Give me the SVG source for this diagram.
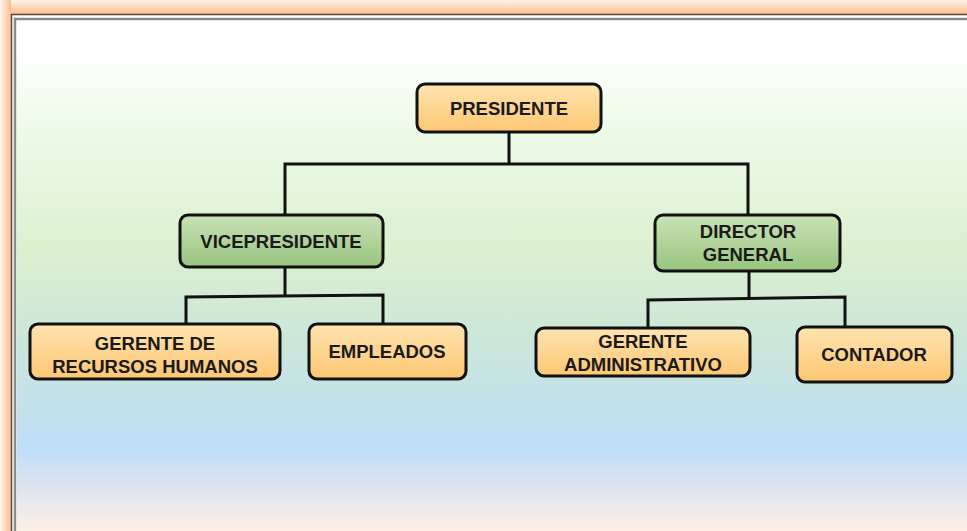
<svg xmlns="http://www.w3.org/2000/svg" width="967" height="531" viewBox="0 0 967 531">
<defs>
<linearGradient id="bg" x1="0" y1="0" x2="0" y2="1">
<stop offset="0" stop-color="#ffffff"/>
<stop offset="0.06" stop-color="#ffffff"/>
<stop offset="0.2" stop-color="#eefbe9"/>
<stop offset="0.45" stop-color="#dcf0cf"/>
<stop offset="0.62" stop-color="#cbe7d8"/>
<stop offset="0.75" stop-color="#c3e1ea"/>
<stop offset="0.84" stop-color="#bfdef8"/>
<stop offset="0.93" stop-color="#e4e6ee"/>
<stop offset="1" stop-color="#fcefe3"/>
</linearGradient>
<linearGradient id="glowT" x1="0" y1="0" x2="0" y2="1">
<stop offset="0" stop-color="#fff3ea"/>
<stop offset="1" stop-color="#ffbe90"/>
</linearGradient>
<linearGradient id="glowL" x1="0" y1="0" x2="1" y2="0">
<stop offset="0" stop-color="#fff3ea"/>
<stop offset="1" stop-color="#ffbe90"/>
</linearGradient>
<linearGradient id="orange" x1="0" y1="0" x2="0" y2="1">
<stop offset="0" stop-color="#ffe3b0"/>
<stop offset="1" stop-color="#fcc772"/>
</linearGradient>
<linearGradient id="green" x1="0" y1="0" x2="0" y2="1">
<stop offset="0" stop-color="#c8e2b6"/>
<stop offset="1" stop-color="#98c57f"/>
</linearGradient>
<style>
.box{stroke:#111;stroke-width:3;}
.o{fill:url(#orange);}
.g{fill:url(#green);}
.t{font-family:"Liberation Sans",Arial,sans-serif;font-weight:bold;font-size:18.5px;fill:#1a1a1a;text-anchor:middle;}
.c{fill:none;stroke:#111;stroke-width:3;}
</style>
</defs>
<rect x="0" y="0" width="967" height="531" fill="#fff8f2"/>
<rect x="0" y="0" width="967" height="14" fill="url(#glowT)"/>
<rect x="0" y="0" width="11" height="531" fill="url(#glowL)"/>
<rect x="11" y="14" width="956" height="517" fill="#ffffff"/>
<rect x="17" y="21" width="950" height="510" fill="url(#bg)"/>
<path d="M11.5 531 V14.5 H967" fill="none" stroke="#5a4a40" stroke-width="1.5"/>
<path d="M15 531 V19 H967" fill="none" stroke="#8a8a8a" stroke-width="2.5"/>
<g id="connectors">
<path class="c" d="M509 132 V164 M285 215 V164 H748 V215"/>
<path class="c" d="M285 267 V296 M186 324 V297 L383 295 V324"/>
<path class="c" d="M749 271 V298 M648 328 V300 L845 297 V327"/>
</g>
<g id="presidente">
<rect class="box o" x="417" y="84" width="184" height="48" rx="8"/>
<text class="t" x="509" y="115">PRESIDENTE</text>
</g>
<g id="vicepresidente">
<rect class="box g" x="180" y="215" width="203" height="52" rx="8"/>
<text class="t" x="281" y="248">VICEPRESIDENTE</text>
</g>
<g id="director-general">
<rect class="box g" x="655" y="215" width="185" height="56" rx="8"/>
<text class="t" x="748" y="238">DIRECTOR</text>
<text class="t" x="748" y="261">GENERAL</text>
</g>
<g id="gerente-rrhh">
<rect class="box o" x="30" y="324" width="250" height="55" rx="8"/>
<text class="t" x="155" y="350">GERENTE DE</text>
<text class="t" x="155" y="373">RECURSOS HUMANOS</text>
</g>
<g id="empleados">
<rect class="box o" x="309" y="324" width="157" height="55" rx="8"/>
<text class="t" x="387" y="358">EMPLEADOS</text>
</g>
<g id="gerente-administrativo">
<rect class="box o" x="536" y="328" width="214" height="48" rx="8"/>
<text class="t" x="643" y="348">GERENTE</text>
<text class="t" x="643" y="371">ADMINISTRATIVO</text>
</g>
<g id="contador">
<rect class="box o" x="797" y="327" width="155" height="55" rx="8"/>
<text class="t" x="874" y="361">CONTADOR</text>
</g>
</svg>
